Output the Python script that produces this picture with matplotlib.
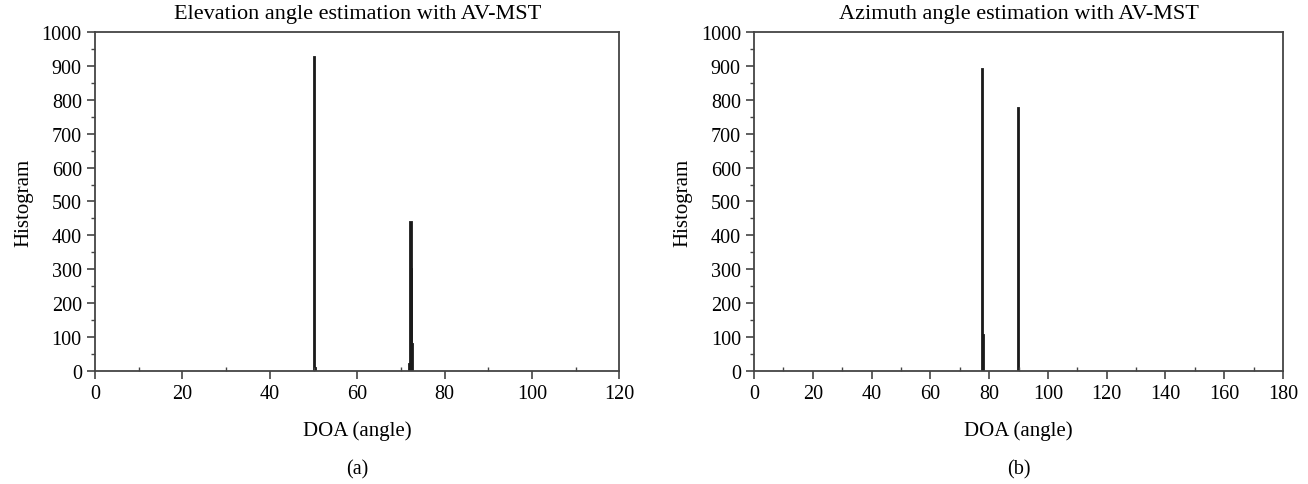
import matplotlib.pyplot as plt
from matplotlib.ticker import MultipleLocator

plt.rcParams['font.family'] = 'Liberation Serif'
plt.rcParams['font.size'] = 14

# Elevation histogram (a): bin centres and counts
elev_doa = [50.3, 50.5, 72.1, 72.3, 72.45, 72.6]
elev_count = [925, 10, 20, 440, 300, 80]

# Azimuth histogram (b)
azi_doa = [77.8, 78.0, 89.9]
azi_count = [890, 105, 775]

fig = plt.figure(figsize=(13.08, 4.85), dpi=100)
ax1 = fig.add_axes([0.0726, 0.233, 0.401, 0.699])
ax2 = fig.add_axes([0.5765, 0.233, 0.4044, 0.699])

panels = [
    (ax1, elev_doa, elev_count, 120, 0.3, 'Elevation angle estimation with AV-MST', '(a)'),
    (ax2, azi_doa, azi_count, 180, 0.45, 'Azimuth angle estimation with AV-MST', '(b)'),
]

for ax, x, y, xmax, w, title, tag in panels:
    ax.bar(x, y, width=w, color='#1a1a1a', edgecolor='#1a1a1a', linewidth=1.3)
    ax.set_xlim(0, xmax)
    ax.set_ylim(0, 1000)
    ax.xaxis.set_major_locator(MultipleLocator(20))
    ax.xaxis.set_minor_locator(MultipleLocator(10))
    ax.yaxis.set_major_locator(MultipleLocator(100))
    ax.yaxis.set_minor_locator(MultipleLocator(50))
    ax.tick_params(which='major', direction='out', length=6, width=1.2, color='#444444', labelsize=14.5)
    ax.tick_params(which='minor', direction='out', length=3, width=1, color='#444444')
    ax.tick_params(axis='x', which='minor', direction='in')
    for s in ax.spines.values():
        s.set_color('#444444')
        s.set_linewidth(1.3)
    ax.set_title(title, fontsize=16, pad=10)
    ax.set_xlabel('DOA (angle)', fontsize=15, labelpad=12)
    ax.set_ylabel('Histogram', fontsize=15, labelpad=6)
    ax.text(0.5, -0.29, tag, transform=ax.transAxes, ha='center', va='center', fontsize=14.5)

fig.savefig('out.png', dpi=100)
